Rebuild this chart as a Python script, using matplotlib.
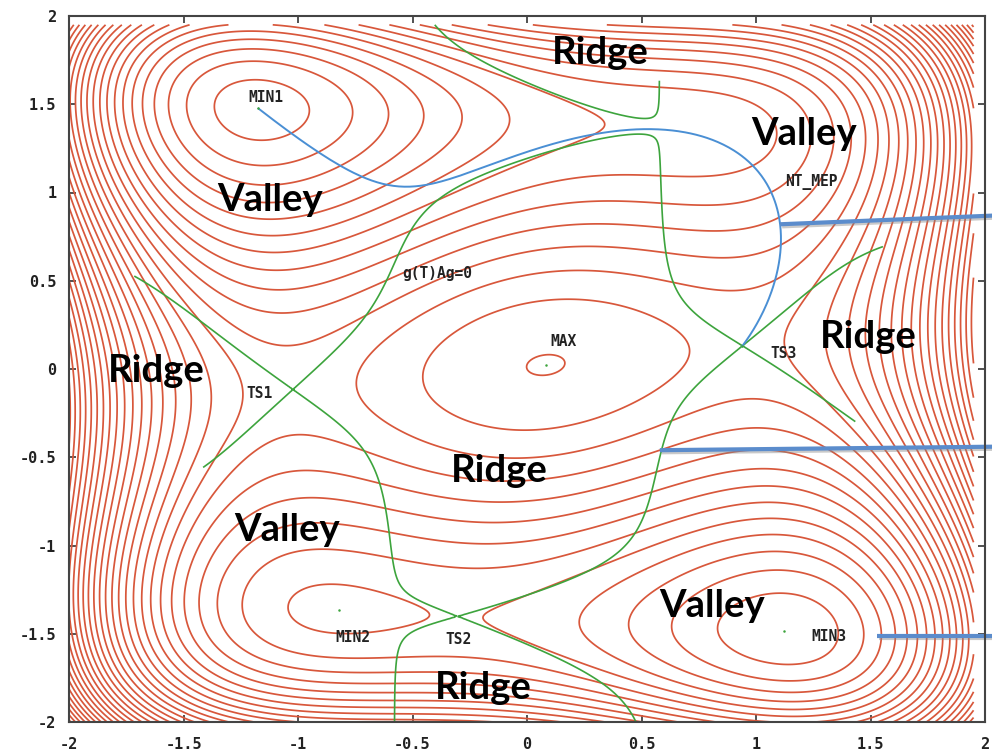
import numpy as np
import matplotlib
matplotlib.use("Agg")
import matplotlib.pyplot as plt
import matplotlib.patheffects as pe
import contourpy

# ---------------- data ----------------
# Wolfe-Quapp surface E = x^4 + y^4 - 2x^2 - 4y^2 + xy + 0.3x + 0.1y
coef_x4, coef_y4 = 1.0, 1.0
coef_x2, coef_y2 = -2.0, -4.0
coef_xy = 1.0
coef_x, coef_y = 0.3, 0.1

contour_levels = np.arange(-6.5, 13.01, 0.5)
grid_x_range = [-2.0, 1.95]
grid_y_range = [-2.0, 1.95]

# approximate stationary points (refined numerically)
stat_names = ["MIN1", "MIN2", "MIN3", "MAX", "TS1", "TS2", "TS3"]
stat_guess_x = [-1.17, -0.83, 1.12, 0.08, -1.0, -0.30, 0.95]
stat_guess_y = [1.48, -1.37, -1.49, 0.02, -0.10, -1.39, 0.15]

# Newton-trajectory search direction (g parallel to r)
nt_direction = [2.0, -3.0]

# visible extent of the g(T)Ag=0 dotted curve
green_x_limits = [-1.72, 1.56]
green_low_corner = [1.42, -0.30]    # |x| beyond this and y below this: hidden
green_top_right = [0.5, 1.64]       # x beyond this and y above this: hidden

# label texts and positions
small_labels = ["MIN1", "MAX", "TS1", "TS3", "TS2", "MIN2", "MIN3", "NT_MEP", "g(T)Ag=0"]
small_lx = [-1.14, 0.16, -1.17, 1.12, -0.30, -0.76, 1.32, 1.24, -0.39]
small_ly = [1.54, 0.155, -0.14, 0.085, -1.53, -1.52, -1.513, 1.06, 0.54]

big_labels = ["Ridge", "Valley", "Valley", "Ridge", "Ridge", "Ridge", "Valley", "Valley", "Ridge"]
big_lx = [0.32, 1.21, -1.12, 1.49, -1.62, -0.12, -1.05, 0.81, -0.19]
big_ly = [1.79, 1.33, 0.96, 0.18, -0.01, -0.58, -0.91, -1.34, -1.81]

# pointer lines (start x, start y, end x, end y) in data units
pointer_x0 = [1.105, 0.58, 1.53]
pointer_y0 = [0.82, -0.46, -1.51]
pointer_x1 = [2.05, 2.05, 2.05]
pointer_y1 = [0.87, -0.44, -1.51]

ticks = np.arange(-2, 2.01, 0.5)
tick_labels = ["-2", "-1.5", "-1", "-0.5", "0", "0.5", "1", "1.5", "2"]


# ---------------- surface ----------------
def energy(x, y):
    return (coef_x4 * x**4 + coef_y4 * y**4 + coef_x2 * x**2 + coef_y2 * y**2
            + coef_xy * x * y + coef_x * x + coef_y * y)


def grad(x, y):
    gx = 4 * coef_x4 * x**3 + 2 * coef_x2 * x + coef_xy * y + coef_x
    gy = 4 * coef_y4 * y**3 + 2 * coef_y2 * y + coef_xy * x + coef_y
    return gx, gy


def hess(x, y):
    hxx = 12 * coef_x4 * x**2 + 2 * coef_x2
    hyy = 12 * coef_y4 * y**2 + 2 * coef_y2
    hxy = coef_xy + 0 * x
    return hxx, hxy, hyy


def refine(x, y):
    for _ in range(50):
        gx, gy = grad(x, y)
        hxx, hxy, hyy = hess(x, y)
        det = hxx * hyy - hxy**2
        dx = (hyy * gx - hxy * gy) / det
        dy = (-hxy * gx + hxx * gy) / det
        x, y = x - dx, y - dy
    return x, y


stat = {}
for n, gx0, gy0 in zip(stat_names, stat_guess_x, stat_guess_y):
    stat[n] = refine(gx0, gy0)

xs = np.linspace(grid_x_range[0], grid_x_range[1], 500)
ys = np.linspace(grid_y_range[0], grid_y_range[1], 500)
X, Y = np.meshgrid(xs, ys)
E = energy(X, Y)
GX, GY = grad(X, Y)
HXX, HXY, HYY = hess(X, Y)
# g^T A g with A = adjugate of the Hessian
F = GX**2 * HYY - 2 * GX * GY * HXY + GY**2 * HXX
hide = ((X < green_x_limits[0]) | (X > green_x_limits[1]) |
        ((np.abs(X) > green_low_corner[0]) & (Y < green_low_corner[1])) |
        ((X > green_top_right[0]) & (Y > green_top_right[1])))
F_vis = np.ma.masked_where(hide, F)

# Newton trajectory: g x r = 0, branch from MIN1 to TS3
NT = GX * nt_direction[1] - GY * nt_direction[0]
gen = contourpy.contour_generator(xs, ys, NT)
nt_lines = gen.lines(0.0)
p1 = np.array(stat["MIN1"])
p2 = np.array(stat["TS3"])
best = None
for ln in nt_lines:
    d1 = np.hypot(*(ln - p1).T)
    d2 = np.hypot(*(ln - p2).T)
    score = d1.min() + d2.min()
    if best is None or score < best[0]:
        best = (score, ln, d1.argmin(), d2.argmin())
_, ln, i1, i2 = best
a, b = sorted([i1, i2])
seg_a = ln[a:b + 1]
closed = np.allclose(ln[0], ln[-1])
if closed:
    seg_b = np.vstack([ln[b:], ln[:a + 1]])
    nt_seg = seg_a if len(seg_a) <= len(seg_b) else seg_b
else:
    nt_seg = seg_a

# ---------------- figure ----------------
fig = plt.figure(figsize=(9.92, 7.54), dpi=100)
ax = fig.add_axes([69 / 992, 1 - 722 / 754, 916 / 992, 706 / 754])

ax.contour(X, Y, E, levels=contour_levels, colors="#d8573b", linewidths=1.25,
           linestyles="solid")
ax.contour(X, Y, F_vis, levels=[0.0], colors="#3da43d", linewidths=1.2,
           linestyles="solid")
ax.plot(nt_seg[:, 0], nt_seg[:, 1], color="#4a8fd4", lw=1.4)

for n in stat_names:
    ax.plot(*stat[n], marker="o", ms=1.8, color="#3da43d", mec="none")

mono = dict(family="DejaVu Sans Mono", fontweight="bold", fontsize=10.5, color="#222222")
for t, x, y in zip(small_labels, small_lx, small_ly):
    ax.text(x, y, t, ha="center", va="center", **mono)

for t, x, y in zip(big_labels, big_lx, big_ly):
    ax.text(x, y, t, ha="center", va="center", family="Lato", fontweight="bold",
            fontsize=27.5, color="black")

shadow = [pe.SimpleLineShadow(offset=(1.5, -1.5), shadow_color="#888888", alpha=0.45),
          pe.Normal()]
for x0, y0, x1, y1 in zip(pointer_x0, pointer_y0, pointer_x1, pointer_y1):
    ax.plot([x0, x1], [y0, y1], color="#5b8ccc", lw=3, clip_on=False,
            solid_capstyle="butt", path_effects=shadow)

ax.set_xlim(-2, 2)
ax.set_ylim(-2, 2)
ax.set_xticks(ticks)
ax.set_yticks(ticks)
ax.set_xticklabels(tick_labels)
ax.set_yticklabels(tick_labels)
ax.tick_params(direction="in", length=5, width=1.2, top=True, right=True,
               labelsize=11, colors="#333333")
ax.tick_params(axis="x", pad=11)
ax.tick_params(axis="y", pad=9)
for lab in ax.get_xticklabels() + ax.get_yticklabels():
    lab.set_fontfamily("DejaVu Sans Mono")
    lab.set_fontweight("bold")
    lab.set_color("#222222")
for s in ax.spines.values():
    s.set_linewidth(1.5)
    s.set_color("#444444")

fig.savefig("out.png", dpi=100)
